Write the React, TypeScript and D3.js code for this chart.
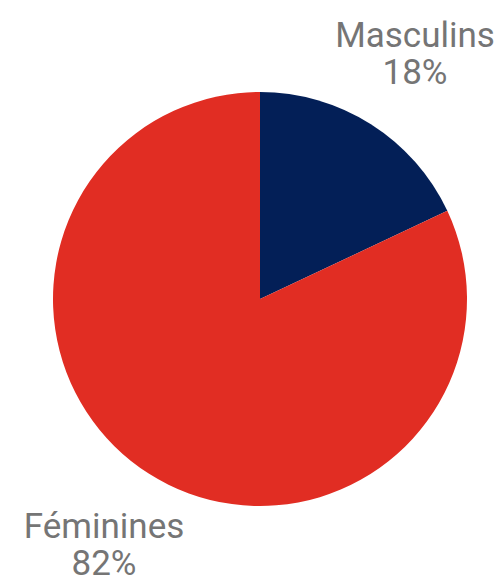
import * as d3 from 'd3';

const categories = ['Masculins', 'Féminines'];
const values = [18, 82];
const colors = ['#031f57', '#e12d23'];

const width = 500;
const height = 578;
const cx = 260;
const cy = 299;
const radius = 207;

// label anchor points (center of text block, baseline of first line)
const labelPos = [
  { x: 415, y: 47 },
  { x: 104, y: 538 },
];

export default function App(): JSX.Element {
  const pie = d3.pie<number>().sort(null).value(d => d);
  const arcs = pie(values);
  const arc = d3.arc<d3.PieArcDatum<number>>().innerRadius(0).outerRadius(radius);
  const total = d3.sum(values);

  return (
    <svg
      width={width}
      height={height}
      style={{ position: 'absolute', left: 0, top: 0, background: '#fff' }}
    >
      <g transform={`translate(${cx},${cy})`}>
        {arcs.map((a, i) => (
          <path key={categories[i]} d={arc(a) || ''} fill={colors[i]} />
        ))}
      </g>
      {categories.map((c, i) => (
        <text
          key={c}
          x={labelPos[i].x}
          y={labelPos[i].y}
          textAnchor="middle"
          fill="#757575"
          style={{ fontFamily: 'Roboto', fontSize: '35px' }}
        >
          <tspan x={labelPos[i].x}>{c}</tspan>
          <tspan x={labelPos[i].x} dy={36.5}>
            {Math.round((values[i] / total) * 100) + '%'}
          </tspan>
        </text>
      ))}
    </svg>
  );
}
